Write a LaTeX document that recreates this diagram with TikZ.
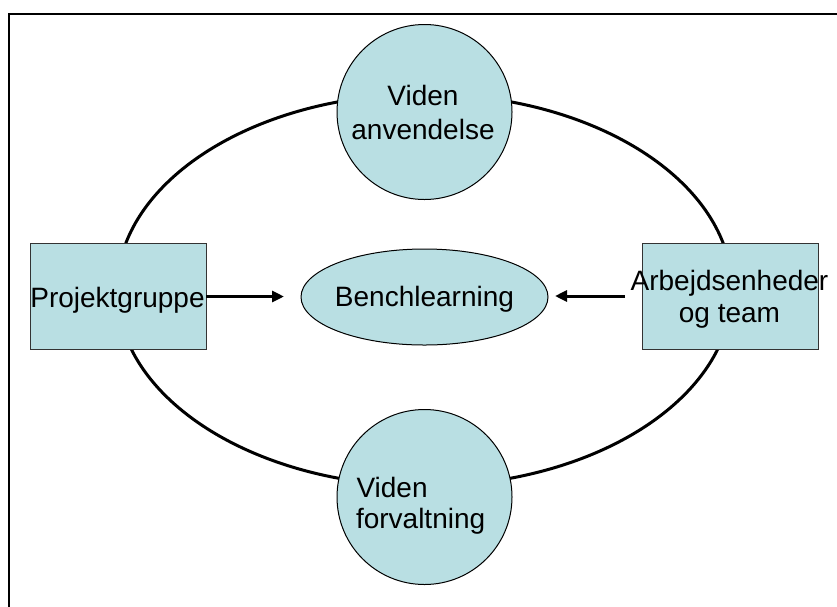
\documentclass[tikz,border=0pt]{standalone}
\usepackage{fontspec}
\setmainfont{Liberation Sans}
\usetikzlibrary{shapes.geometric,arrows.meta}
\definecolor{boxfill}{RGB}{185,223,227}
\begin{document}
\begin{tikzpicture}[x=1pt,y=-1pt,
  every node/.style={inner sep=0pt,outer sep=0pt},
  lbl/.style={font=\fontsize{28}{33}\selectfont,text=black},
  disc/.style={circle,draw=black,line width=1pt,fill=boxfill,minimum size=175pt},
  unitbox/.style={rectangle,draw=black!80,line width=1pt,fill=boxfill,minimum width=176pt,minimum height=106pt},
  hub/.style={ellipse,draw=black,line width=1pt,fill=boxfill,minimum width=247pt,minimum height=96pt},
  loop/.style={draw=black,line width=3pt},
  flow/.style={draw=black,line width=3pt,-{Triangle[length=12pt,width=11pt]}}]
  \clip (0,0) rectangle (837,606);
  \fill[white] (0,0) rectangle (837,606);
  % outer frame, running off the right and bottom edges
  \draw[line width=2pt] (8.5,13.5) rectangle (870,640);
  % cycle connecting the four parts
  \coordinate (centre) at (424.5,290);
  \draw[loop] (centre) ellipse [x radius=307.5pt, y radius=196pt];
  % knowledge discs
  \node[disc] (use) at (424.5,112) {};
  \node[disc] (keep) at (424.5,497) {};
  \node[lbl,anchor=base] (useA) at (423,105) {Viden};
  \node[lbl,anchor=base] (useB) at (423,139) {anvendelse};
  \node[lbl,anchor=base west] (keepA) at (356.5,497) {Viden};
  \node[lbl,anchor=base west] (keepB) at (356,528) {forvaltning};
  % side groups
  \node[unitbox] (pg) at (118,296) {};
  \node[unitbox] (ae) at (730,296) {};
  \node[lbl,anchor=base] (pgt) at (117.5,307) {Projektgruppe};
  \node[lbl,anchor=base] (aeA) at (729.5,290) {Arbejdsenheder};
  \node[lbl,anchor=base] (aeB) at (729.5,322) {og team};
  % centre
  \node[hub] (bl) at (424.5,297) {};
  \node[lbl,anchor=base] (blt) at (424.5,306) {Benchlearning};
  % arrows towards the centre
  \coordinate (ltip) at (284,296.5);
  \coordinate (rstart) at (625,296);
  \coordinate (rtip) at (555,296);
  \draw[flow] (pg.east |- ltip) -- (ltip);
  \draw[flow] (rstart) -- (rtip);
\end{tikzpicture}
\end{document}
